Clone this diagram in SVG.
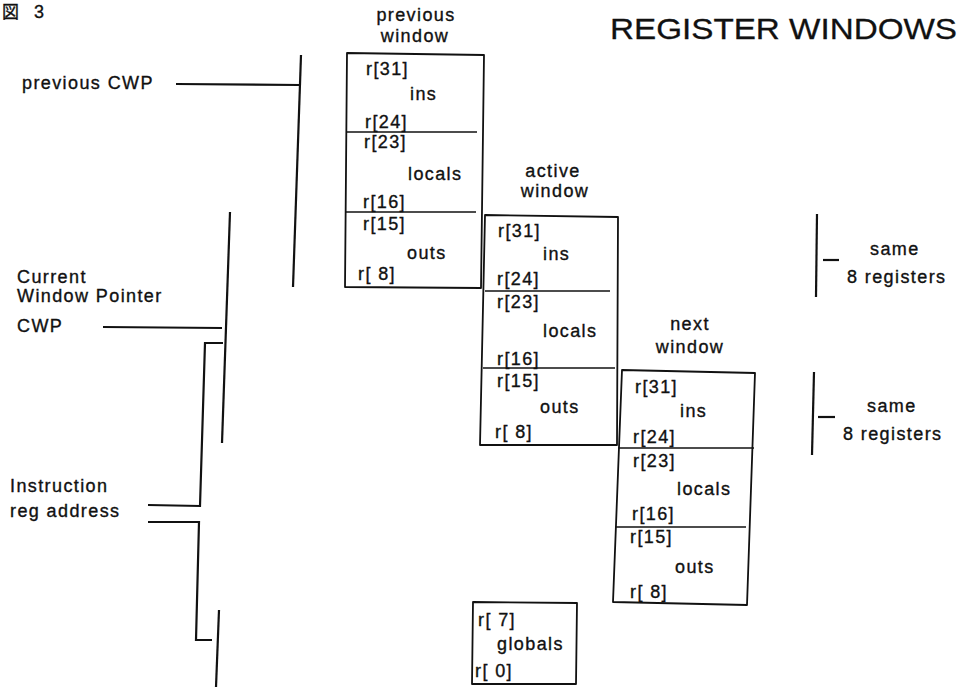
<svg xmlns="http://www.w3.org/2000/svg" width="967" height="687" viewBox="0 0 967 687">
<style>
text{font-family:"Liberation Sans","Noto Sans CJK JP",sans-serif;fill:#111;stroke:#111;stroke-width:0.35;}
.t{font-size:18px;letter-spacing:1.4px;}
.c{text-anchor:middle;}
.box{fill:none;stroke:#111;stroke-width:1.8;stroke-linejoin:round;}
.div{stroke:#111;stroke-width:1.6;fill:none;}
.ln{stroke:#111;stroke-width:2.2;fill:none;stroke-linejoin:miter;}
.title{font-size:30px;stroke-width:0.3;}
</style>
<rect width="967" height="687" fill="#fff"/>
<g id="figure-label"><text x="2" y="18" style="font-size:17px">図</text><text x="34" y="18" style="font-size:18px">3</text></g>
<g id="title"><text class="title" x="610" y="39" textLength="347" lengthAdjust="spacingAndGlyphs">REGISTER WINDOWS</text></g>

<g id="previous-window">
<text class="t c" x="416" y="21">previous</text>
<text class="t c" x="415" y="42">window</text>
<polygon class="box" points="347,53 484,55 481,288 345,287"/>
<line class="div" x1="347" y1="132" x2="477" y2="132"/>
<line class="div" x1="346" y1="212" x2="476" y2="212"/>
<text class="t" x="366" y="75">r[31]</text>
<text class="t" x="410" y="100">ins</text>
<text class="t" x="365" y="128">r[24]</text>
<text class="t" x="364" y="148">r[23]</text>
<text class="t" x="408" y="180">locals</text>
<text class="t" x="363" y="208">r[16]</text>
<text class="t" x="363" y="230">r[15]</text>
<text class="t" x="407" y="259">outs</text>
<text class="t" x="358" y="280">r[ 8]</text>
</g>

<g id="active-window">
<text class="t c" x="553" y="177">active</text>
<text class="t c" x="555" y="197">window</text>
<polygon class="box" points="485,215 618,217 617,445 480,445"/>
<line class="div" x1="485" y1="291" x2="610" y2="291"/>
<line class="div" x1="483" y1="368" x2="615" y2="368"/>
<text class="t" x="498" y="237">r[31]</text>
<text class="t" x="543" y="260">ins</text>
<text class="t" x="497" y="285">r[24]</text>
<text class="t" x="497" y="308">r[23]</text>
<text class="t" x="543" y="337">locals</text>
<text class="t" x="497" y="365">r[16]</text>
<text class="t" x="497" y="387">r[15]</text>
<text class="t" x="540" y="413">outs</text>
<text class="t" x="495" y="438">r[ 8]</text>
</g>

<g id="next-window">
<text class="t c" x="690" y="330">next</text>
<text class="t c" x="690" y="353">window</text>
<polygon class="box" points="622,370 755,373 747,605 613,602"/>
<line class="div" x1="618" y1="448" x2="754" y2="448"/>
<line class="div" x1="615" y1="527" x2="746" y2="527"/>
<text class="t" x="635" y="393">r[31]</text>
<text class="t" x="680" y="417">ins</text>
<text class="t" x="633" y="443">r[24]</text>
<text class="t" x="633" y="467">r[23]</text>
<text class="t" x="677" y="495">locals</text>
<text class="t" x="632" y="520">r[16]</text>
<text class="t" x="630" y="543">r[15]</text>
<text class="t" x="675" y="573">outs</text>
<text class="t" x="630" y="598">r[ 8]</text>
</g>

<g id="globals">
<polygon class="box" points="473,602 577,603 576,684 472,684"/>
<text class="t" x="478" y="626">r[ 7]</text>
<text class="t" x="497" y="650">globals</text>
<text class="t" x="475" y="677">r[ 0]</text>
</g>

<g id="labels-left">
<text class="t" x="22" y="89">previous CWP</text>
<text class="t" x="17" y="283">Current</text>
<text class="t" x="17" y="302">Window Pointer</text>
<text class="t" x="17" y="332">CWP</text>
<text class="t" x="10" y="492">Instruction</text>
<text class="t" x="10" y="517">reg address</text>
</g>

<g id="labels-right">
<text class="t" x="870" y="255">same</text>
<text class="t" x="847" y="283">8 registers</text>
<text class="t" x="867" y="412">same</text>
<text class="t" x="843" y="440">8 registers</text>
</g>

<g id="connectors">
<line class="ln" x1="301" y1="55" x2="293" y2="287"/>
<line class="ln" x1="176" y1="84" x2="300" y2="85"/>
<line class="ln" x1="230" y1="212" x2="222" y2="443"/>
<line class="ln" x1="103" y1="327" x2="222" y2="328"/>
<polyline class="ln" points="223,343 205,343 200,506 148,505"/>
<polyline class="ln" points="148,522 199,522 196,640 212,640"/>
<line class="ln" x1="219" y1="610" x2="216" y2="687"/>
<line class="ln" x1="817" y1="214" x2="816" y2="297"/>
<line class="ln" x1="823" y1="260" x2="839" y2="260"/>
<line class="ln" x1="814" y1="372" x2="812" y2="455"/>
<line class="ln" x1="818" y1="417" x2="835" y2="417"/>
</g>
</svg>
